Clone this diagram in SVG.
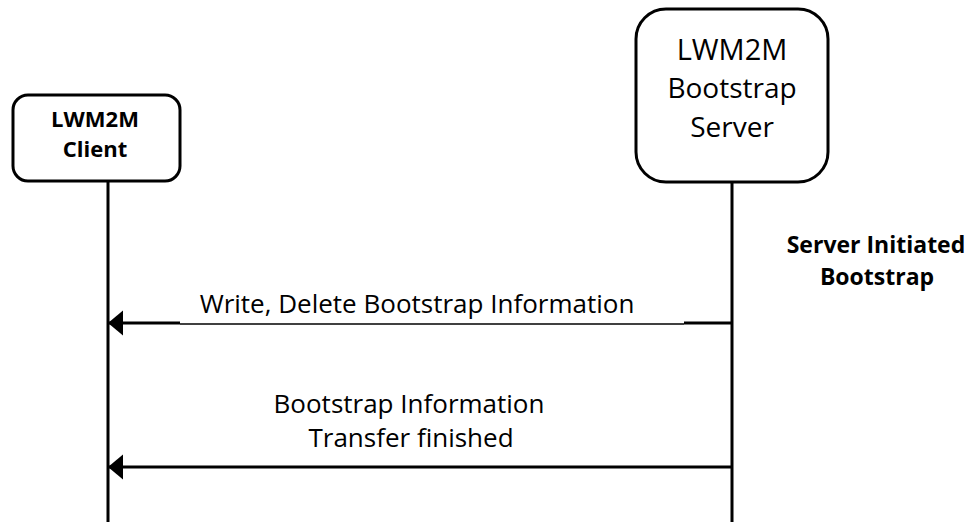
<svg xmlns="http://www.w3.org/2000/svg" width="971" height="522" viewBox="0 0 971 522">
<style>
.box{fill:#fff;stroke:#000;stroke-width:3}
.life{stroke:#000;stroke-width:3;fill:none}
.msg{stroke:#000;stroke-width:3;fill:none}
.thin{stroke:#000;stroke-width:1.3;fill:none}
text{font-family:"Open Sans","Liberation Sans",sans-serif;fill:#000;text-anchor:middle}
.b{font-weight:bold}
.lbl{font-size:26px}
</style>
<defs>
<marker id="ah" markerWidth="16" markerHeight="26" refX="15" refY="12.5" orient="auto" markerUnits="userSpaceOnUse">
<path d="M0,0 L15,12.5 L0,25 Z" fill="#000"/>
</marker>
</defs>
<rect width="971" height="522" fill="#fff"/>
<g id="connectors">
<line class="life" x1="108" y1="180" x2="108" y2="522"/>
<line class="life" x1="732" y1="182" x2="732" y2="522"/>
<path class="msg" d="M180,323 L108,323" marker-end="url(#ah)"/>
<line class="thin" x1="180" y1="324" x2="684" y2="324"/>
<line class="msg" x1="684" y1="323" x2="732" y2="323"/>
<path class="msg" d="M732,467 L108,467" marker-end="url(#ah)"/>
<text class="lbl" x="417" y="313">Write, Delete Bootstrap Information</text>
<text class="lbl" x="409" y="413">Bootstrap Information</text>
<text class="lbl" x="411" y="447">Transfer finished</text>
</g>
<g id="client">
<rect class="box" x="13" y="95" width="167" height="86" rx="15"/>
<text class="b" x="95" y="127" font-size="22">LWM2M</text>
<text class="b" x="95" y="157" font-size="22">Client</text>
</g>
<g id="server">
<rect class="box" x="636" y="9" width="192" height="173" rx="30"/>
<text x="732" y="60" font-size="29">LWM2M</text>
<text x="732" y="98" font-size="28">Bootstrap</text>
<text x="732" y="137" font-size="28">Server</text>
</g>
<g id="note">
<text class="b" x="876" y="253" font-size="23">Server Initiated</text>
<text class="b" x="877" y="285" font-size="23">Bootstrap</text>
</g>
</svg>
